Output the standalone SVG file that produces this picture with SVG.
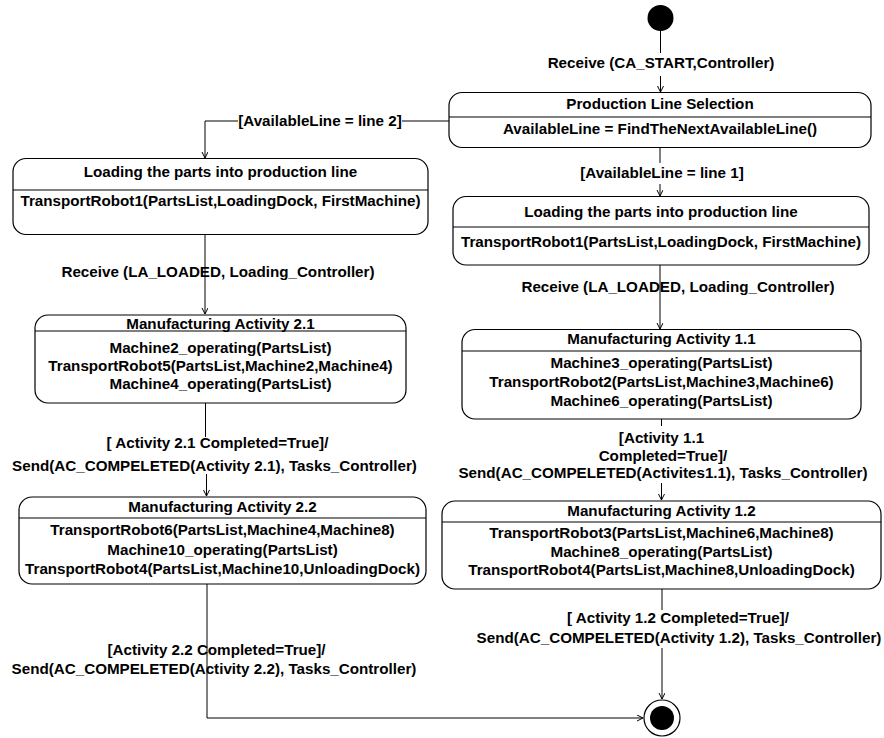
<svg xmlns="http://www.w3.org/2000/svg" width="884" height="738" viewBox="0 0 884 738">
  <style>
    .state { fill: #ffffff; stroke: #000000; stroke-width: 1.2; }
    .div { stroke: #000000; stroke-width: 1.2; }
    .edge { fill: none; stroke: #000000; stroke-width: 1; }
    text { font-family: "Liberation Sans", Arial, sans-serif; font-weight: bold; font-size: 15.2px; fill: #000000; text-anchor: middle; }
  </style>
  <defs>
    <marker id="arrow" markerUnits="userSpaceOnUse" markerWidth="8" markerHeight="8" refX="6" refY="3" orient="auto">
      <path d="M0,0 L6,3 L0,6" fill="none" stroke="#000000" stroke-width="1"/>
    </marker>
  </defs>
  <rect width="884" height="738" fill="#ffffff"/>

  <!-- connectors -->
  <g id="connectors">
    <line class="edge" x1="660.5" y1="31" x2="660.5" y2="53"/>
    <line class="edge" x1="660.5" y1="76" x2="660.5" y2="92" marker-end="url(#arrow)"/>
    <polyline class="edge" points="449,121 402,121"/>
    <polyline class="edge" points="238,121 205,121 205,158" marker-end="url(#arrow)"/>
    <line class="edge" x1="660" y1="148" x2="660" y2="163"/>
    <line class="edge" x1="660" y1="184" x2="660" y2="196" marker-end="url(#arrow)"/>
    <line class="edge" x1="205" y1="234" x2="205" y2="314" marker-end="url(#arrow)"/>
    <line class="edge" x1="660" y1="265" x2="660" y2="329" marker-end="url(#arrow)"/>
    <line class="edge" x1="205.5" y1="403" x2="205.5" y2="437"/>
    <line class="edge" x1="206.5" y1="474" x2="206.5" y2="496" marker-end="url(#arrow)"/>
    <line class="edge" x1="661.5" y1="419" x2="661.5" y2="426"/>
    <line class="edge" x1="661.5" y1="483" x2="661.5" y2="500" marker-end="url(#arrow)"/>
    <line class="edge" x1="662" y1="589" x2="662" y2="610"/>
    <line class="edge" x1="662" y1="648" x2="662" y2="699" marker-end="url(#arrow)"/>
    <polyline class="edge" points="207,584 207,718 643,718" marker-end="url(#arrow)"/>
  </g>

  <!-- initial pseudostate -->
  <g id="start">
    <circle cx="660.5" cy="18" r="13" fill="#000000"/>
  </g>

  <!-- Production Line Selection -->
  <g id="production-line-selection">
    <rect class="state" x="449" y="92.5" width="422" height="55" rx="13" ry="13"/>
    <line class="div" x1="449" y1="117" x2="871" y2="117"/>
    <text x="660" y="108.5">Production Line Selection</text>
    <text x="660" y="133.5">AvailableLine = FindTheNextAvailableLine()</text>
  </g>

  <!-- Loading, line 2 -->
  <g id="loading-line2">
    <rect class="state" x="13" y="158.5" width="415" height="76" rx="13" ry="13"/>
    <line class="div" x1="13" y1="190" x2="428" y2="190"/>
    <text x="220.5" y="176.5">Loading the parts into production line</text>
    <text x="220.5" y="205.5">TransportRobot1(PartsList,LoadingDock, FirstMachine)</text>
  </g>

  <!-- Loading, line 1 -->
  <g id="loading-line1">
    <rect class="state" x="453" y="196.5" width="416" height="68.5" rx="13" ry="13"/>
    <line class="div" x1="453" y1="227" x2="869" y2="227"/>
    <text x="661" y="217">Loading the parts into production line</text>
    <text x="661" y="247">TransportRobot1(PartsList,LoadingDock, FirstMachine)</text>
  </g>

  <!-- Manufacturing Activity 2.1 -->
  <g id="activity-2-1">
    <rect class="state" x="35" y="315" width="371" height="88" rx="13" ry="13"/>
    <line class="div" x1="35" y1="331" x2="406" y2="331"/>
    <text x="220.5" y="328.5">Manufacturing Activity 2.1</text>
    <text x="220.5" y="353">Machine2_operating(PartsList)</text>
    <text x="220.5" y="371">TransportRobot5(PartsList,Machine2,Machine4)</text>
    <text x="220.5" y="388.5">Machine4_operating(PartsList)</text>
  </g>

  <!-- Manufacturing Activity 1.1 -->
  <g id="activity-1-1">
    <rect class="state" x="462" y="329.5" width="399" height="89.5" rx="13" ry="13"/>
    <line class="div" x1="462" y1="351" x2="861" y2="351"/>
    <text x="661.5" y="343.5">Manufacturing Activity 1.1</text>
    <text x="661.5" y="368">Machine3_operating(PartsList)</text>
    <text x="661.5" y="387">TransportRobot2(PartsList,Machine3,Machine6)</text>
    <text x="661.5" y="405.5">Machine6_operating(PartsList)</text>
  </g>

  <!-- Manufacturing Activity 2.2 -->
  <g id="activity-2-2">
    <rect class="state" x="19" y="497" width="407" height="87" rx="13" ry="13"/>
    <line class="div" x1="19" y1="518" x2="426" y2="518"/>
    <text x="222.5" y="512">Manufacturing Activity 2.2</text>
    <text x="222.5" y="534.5">TransportRobot6(PartsList,Machine4,Machine8)</text>
    <text x="222.5" y="554.5">Machine10_operating(PartsList)</text>
    <text x="222.5" y="573.5">TransportRobot4(PartsList,Machine10,UnloadingDock)</text>
  </g>

  <!-- Manufacturing Activity 1.2 -->
  <g id="activity-1-2">
    <rect class="state" x="442" y="501" width="439" height="88" rx="13" ry="13"/>
    <line class="div" x1="442" y1="522" x2="881" y2="522"/>
    <text x="661.5" y="515.5">Manufacturing Activity 1.2</text>
    <text x="661.5" y="538">TransportRobot3(PartsList,Machine6,Machine8)</text>
    <text x="661.5" y="557">Machine8_operating(PartsList)</text>
    <text x="661.5" y="575">TransportRobot4(PartsList,Machine8,UnloadingDock)</text>
  </g>

  <!-- final state -->
  <g id="end">
    <circle cx="662" cy="718" r="18" fill="#ffffff" stroke="#000000" stroke-width="1.2"/>
    <circle cx="662" cy="718" r="12" fill="#000000"/>
  </g>

  <!-- transition labels -->
  <g id="labels">
    <text x="661" y="67.5">Receive (CA_START,Controller)</text>
    <text x="320" y="126">[AvailableLine = line 2]</text>
    <text x="662" y="177.5">[AvailableLine = line 1]</text>
    <text x="218" y="277">Receive (LA_LOADED, Loading_Controller)</text>
    <text x="678" y="292">Receive (LA_LOADED, Loading_Controller)</text>
    <text x="217.5" y="448">[ Activity 2.1 Completed=True]/</text>
    <text x="214.5" y="471">Send(AC_COMPELETED(Activity 2.1), Tasks_Controller)</text>
    <text x="661.5" y="442.5">[Activity 1.1</text>
    <text x="663" y="460.5">Completed=True]/</text>
    <text x="663" y="478">Send(AC_COMPELETED(Activites1.1), Tasks_Controller)</text>
    <text x="678" y="623">[ Activity 1.2 Completed=True]/</text>
    <text x="679" y="643">Send(AC_COMPELETED(Activity 1.2), Tasks_Controller)</text>
    <text x="216.5" y="654.5">[Activity 2.2 Completed=True]/</text>
    <text x="214" y="673.5">Send(AC_COMPELETED(Activity 2.2), Tasks_Controller)</text>
  </g>
</svg>
